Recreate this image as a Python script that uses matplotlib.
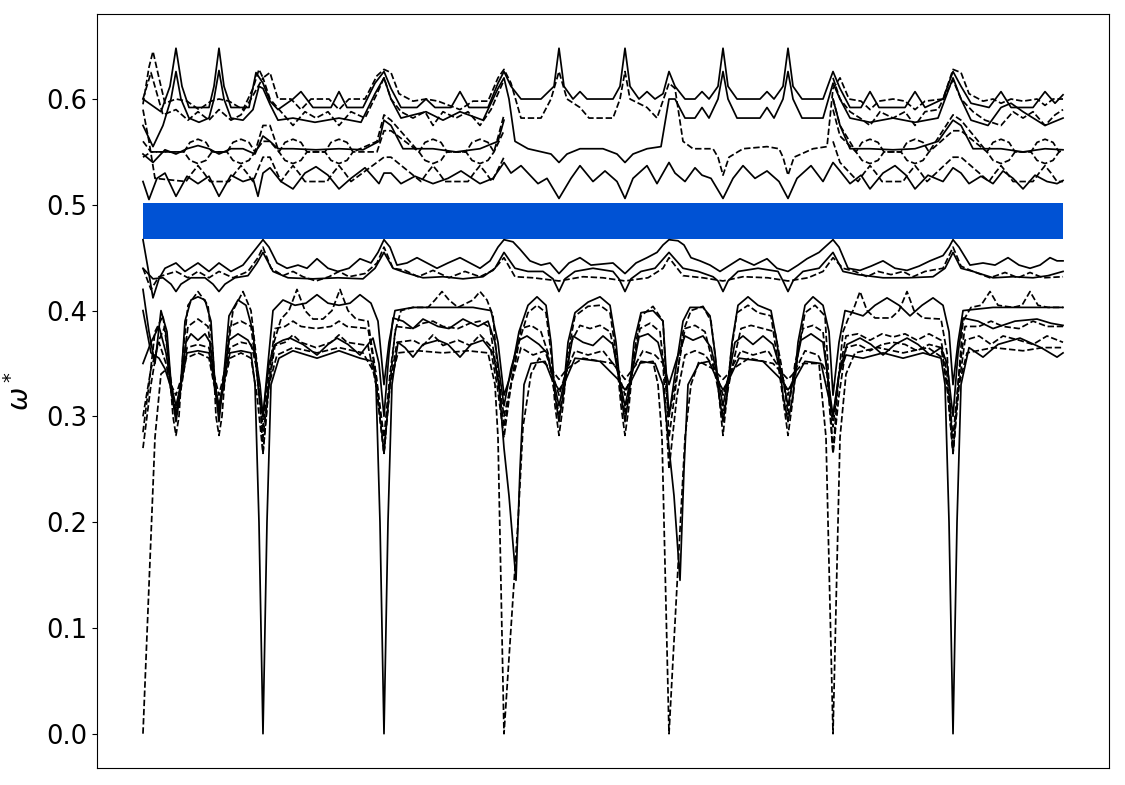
import numpy as np
import matplotlib
matplotlib.use("Agg")
import matplotlib.pyplot as plt

# Band diagram. k = distance along the path (arbitrary units,
# symmetry points at 0, 120, 241, 361, 526, 690, 810, 920), w = normalised frequency.
K_START, K_END = 0, 920
GAP_LOW, GAP_HIGH = 0.4675, 0.5015
NAN = np.nan

# ---- upper group, solid ----
US1 = [(0, 0.600), (18, 0.588), (27, 0.612), (33, 0.648), (39, 0.612), (46, 0.592), (66, 0.592), (71, 0.612),
       (76, 0.648), (81, 0.612), (88, 0.592), (106, 0.592), (113, 0.625), (120, 0.615),
       (127, 0.598), (135, 0.590), (150, 0.600), (158, 0.607), (170, 0.592), (188, 0.592), (196, 0.607),
       (204, 0.592), (220, 0.592), (232, 0.615), (241, 0.626),
       (248, 0.610), (258, 0.592), (274, 0.592), (283, 0.600), (292, 0.592), (308, 0.592), (317, 0.607),
       (326, 0.592), (345, 0.592), (355, 0.615), (361, 0.626),
       (368, 0.612), (378, 0.600), (398, 0.600), (411, 0.612), (416, 0.648), (421, 0.612), (430, 0.600),
       (437, 0.607), (444, 0.600), (470, 0.600), (477, 0.612), (482, 0.648), (487, 0.612), (496, 0.600),
       (504, 0.607), (512, 0.600), (520, 0.605), (526, 0.626),
       (532, 0.612), (542, 0.600), (552, 0.600), (559, 0.607), (566, 0.600), (575, 0.612), (580, 0.648),
       (585, 0.612), (594, 0.600), (617, 0.600), (624, 0.607), (631, 0.600), (640, 0.612), (645, 0.648),
       (650, 0.612), (659, 0.600), (680, 0.600), (690, 0.626),
       (697, 0.610), (707, 0.592), (718, 0.592), (727, 0.607), (736, 0.592), (762, 0.592), (772, 0.607),
       (782, 0.592), (800, 0.600), (810, 0.626),
       (818, 0.612), (828, 0.596), (846, 0.592), (858, 0.607), (868, 0.592), (890, 0.592), (902, 0.607),
       (912, 0.596), (920, 0.604)]

US2 = [(0, 0.575), (10, 0.555), (20, 0.575), (28, 0.600), (33, 0.626), (38, 0.600), (46, 0.582), (56, 0.578),
       (66, 0.582), (71, 0.600), (76, 0.627), (81, 0.600), (88, 0.582), (100, 0.580), (110, 0.590),
       (116, 0.612), (120, 0.610),
       (127, 0.595), (135, 0.580), (150, 0.582), (172, 0.578), (196, 0.582), (218, 0.578), (232, 0.605),
       (241, 0.620),
       (248, 0.600), (258, 0.582), (283, 0.588), (300, 0.580), (317, 0.588), (340, 0.580), (355, 0.610),
       (361, 0.620),
       (366, 0.600), (372, 0.560), (385, 0.553), (408, 0.548), (416, 0.540), (424, 0.548), (437, 0.553),
       (460, 0.553), (474, 0.548), (482, 0.540), (490, 0.548), (504, 0.553), (518, 0.555), (526, 0.600),
       (532, 0.600), (542, 0.582), (552, 0.582), (559, 0.592), (566, 0.582), (575, 0.600), (580, 0.626),
       (585, 0.600), (594, 0.582), (617, 0.582), (624, 0.592), (631, 0.582), (640, 0.600), (645, 0.626),
       (650, 0.600), (659, 0.582), (680, 0.582), (690, 0.615),
       (697, 0.600), (707, 0.582), (727, 0.578), (750, 0.582), (772, 0.578), (795, 0.582), (806, 0.610),
       (810, 0.620),
       (818, 0.600), (828, 0.580), (845, 0.575), (858, 0.592), (868, 0.596), (880, 0.588), (902, 0.575),
       (920, 0.582)]

US3 = [(0, 0.548), (10, 0.540), (22, 0.552), (33, 0.548), (44, 0.553), (55, 0.556), (66, 0.553), (76, 0.548),
       (88, 0.553), (100, 0.553), (112, 0.548), (120, 0.565),
       (127, 0.560), (135, 0.553), (150, 0.553), (173, 0.552), (196, 0.553), (220, 0.552), (236, 0.560),
       (241, 0.580),
       (248, 0.575), (260, 0.553), (290, 0.553), (313, 0.550), (337, 0.553), (355, 0.560), (361, 0.580),
       (600, NAN),
       (690, 0.600), (697, 0.575), (707, 0.553), (727, 0.553), (750, 0.552), (772, 0.553), (795, 0.560),
       (810, 0.580),
       (818, 0.575), (830, 0.553), (858, 0.553), (880, 0.550), (902, 0.553), (920, 0.552)]

US4 = [(0, 0.522), (6, 0.505), (14, 0.525), (22, 0.530), (33, 0.508), (44, 0.527), (55, 0.520), (66, 0.527),
       (76, 0.508), (88, 0.528), (100, 0.522), (110, 0.525), (115, 0.508), (120, 0.530),
       (127, 0.535), (138, 0.522), (150, 0.515), (162, 0.530), (173, 0.536), (185, 0.528), (196, 0.515),
       (208, 0.525), (222, 0.535), (236, 0.520), (241, 0.530),
       (248, 0.530), (258, 0.520), (272, 0.527), (290, 0.520), (305, 0.525), (318, 0.532), (337, 0.520),
       (350, 0.525), (361, 0.540),
       (368, 0.530), (378, 0.537), (395, 0.520), (404, 0.525), (416, 0.506), (428, 0.525), (437, 0.537),
       (450, 0.522), (462, 0.532), (474, 0.522), (482, 0.506), (490, 0.525), (504, 0.537), (514, 0.520),
       (526, 0.540),
       (532, 0.530), (542, 0.522), (552, 0.535), (559, 0.528), (568, 0.525), (580, 0.506), (590, 0.525),
       (600, 0.537), (612, 0.525), (624, 0.532), (636, 0.522), (645, 0.506), (654, 0.525), (668, 0.537),
       (680, 0.522), (690, 0.540),
       (697, 0.532), (707, 0.520), (718, 0.528), (727, 0.515), (740, 0.530), (752, 0.537), (763, 0.528),
       (772, 0.515), (785, 0.528), (800, 0.522), (810, 0.535),
       (818, 0.530), (826, 0.520), (838, 0.527), (850, 0.520), (860, 0.532), (870, 0.525), (880, 0.515),
       (892, 0.528), (904, 0.522), (914, 0.520), (920, 0.523)]

# ---- upper group, dashed ----
UD1 = [(0, 0.595), (6, 0.630), (10, 0.645), (16, 0.620), (22, 0.596), (33, 0.600), (44, 0.598), (56, 0.590),
       (68, 0.598), (76, 0.600), (86, 0.598), (100, 0.590), (110, 0.610), (116, 0.628), (120, 0.620),
       (127, 0.625), (135, 0.600), (148, 0.600), (158, 0.590), (168, 0.600), (186, 0.600), (196, 0.590),
       (206, 0.600), (222, 0.600), (234, 0.622), (241, 0.628),
       (248, 0.625), (256, 0.605), (270, 0.598), (283, 0.600), (295, 0.598), (317, 0.590), (330, 0.598),
       (345, 0.598), (355, 0.620), (361, 0.628),
       (368, 0.615), (378, 0.582), (398, 0.582), (408, 0.600), (416, 0.626), (424, 0.600), (437, 0.592),
       (446, 0.582), (470, 0.582), (477, 0.600), (482, 0.626), (487, 0.600), (504, 0.592), (514, 0.582),
       (526, 0.615),
       (532, 0.610), (540, 0.560), (550, 0.553), (570, 0.553), (575, 0.545), (580, 0.528), (586, 0.545),
       (600, 0.553), (624, 0.555), (636, 0.553), (640, 0.545), (645, 0.528), (651, 0.545), (670, 0.553),
       (684, 0.555), (690, 0.610),
       (697, 0.620), (706, 0.600), (718, 0.598), (727, 0.590), (736, 0.598), (750, 0.600), (762, 0.598),
       (772, 0.590), (782, 0.598), (800, 0.600), (810, 0.628),
       (818, 0.625), (826, 0.605), (840, 0.598), (850, 0.600), (858, 0.596), (868, 0.600), (880, 0.598),
       (894, 0.600), (902, 0.594), (910, 0.600), (920, 0.600)]

UD2 = [(0, 0.600), (8, 0.625), (20, 0.585), (33, 0.590), (45, 0.580), (55, 0.588), (66, 0.580), (76, 0.590),
       (88, 0.580), (98, 0.585), (108, 0.600), (120, 0.620),
       (127, 0.600), (138, 0.588), (150, 0.575), (162, 0.588), (173, 0.582), (185, 0.588), (196, 0.575),
       (208, 0.588), (222, 0.582), (234, 0.605), (241, 0.620),
       (248, 0.600), (258, 0.588), (270, 0.582), (282, 0.588), (290, 0.575), (300, 0.588), (313, 0.582),
       (325, 0.588), (337, 0.575), (348, 0.590), (361, 0.618),
       (600, NAN),
       (690, 0.620), (697, 0.600), (707, 0.588), (717, 0.582), (727, 0.575), (737, 0.588), (750, 0.582),
       (762, 0.588), (772, 0.575), (782, 0.588), (795, 0.590), (810, 0.618),
       (818, 0.600), (830, 0.588), (842, 0.580), (858, 0.575), (870, 0.588), (880, 0.582), (890, 0.588),
       (902, 0.575), (912, 0.585), (920, 0.590)]

UD3_TOP = [(0, 0.560), (8, 0.550), (41, 0.550), (47, 0.559), (55, 0.562), (63, 0.559), (69, 0.550),
           (84, 0.550), (90, 0.559), (98, 0.562), (106, 0.559), (112, 0.550), (120, 0.575),
           (127, 0.575), (136, 0.550), (142, 0.559), (150, 0.562), (158, 0.559), (164, 0.550), (182, 0.550),
           (188, 0.559), (196, 0.562), (204, 0.559), (210, 0.550), (234, 0.560), (241, 0.585),
           (248, 0.580), (276, 0.550), (282, 0.559), (290, 0.562), (298, 0.559), (304, 0.550), (323, 0.550),
           (329, 0.559), (337, 0.562), (345, 0.559), (351, 0.550), (361, 0.585),
           (600, NAN),
           (690, 0.600), (697, 0.575), (713, 0.550), (719, 0.559), (727, 0.562), (735, 0.559), (741, 0.550),
           (758, 0.550), (764, 0.559), (772, 0.562), (780, 0.559), (786, 0.550), (810, 0.585),
           (818, 0.580), (844, 0.550), (850, 0.559), (858, 0.562), (866, 0.559), (872, 0.550), (888, 0.550),
           (894, 0.559), (902, 0.562), (910, 0.559), (916, 0.550), (920, 0.552)]

UD3_BOTTOM = [(0, 0.545), (8, 0.550), (41, 0.550), (47, 0.542), (55, 0.539), (63, 0.542), (69, 0.550),
              (84, 0.550), (90, 0.542), (98, 0.539), (106, 0.542), (112, 0.550), (120, 0.560),
              (127, 0.560), (136, 0.550), (142, 0.542), (150, 0.539), (158, 0.542), (164, 0.550), (182, 0.550),
              (188, 0.542), (196, 0.539), (204, 0.542), (210, 0.550), (234, 0.550), (241, 0.570),
              (248, 0.570), (276, 0.550), (282, 0.542), (290, 0.539), (298, 0.542), (304, 0.550), (323, 0.550),
              (329, 0.542), (337, 0.539), (345, 0.542), (351, 0.550), (361, 0.570),
              (600, NAN),
              (690, 0.590), (697, 0.565), (713, 0.550), (719, 0.542), (727, 0.539), (735, 0.542), (741, 0.550),
              (758, 0.550), (764, 0.542), (772, 0.539), (780, 0.542), (786, 0.550), (810, 0.570),
              (818, 0.570), (844, 0.550), (850, 0.542), (858, 0.539), (866, 0.542), (872, 0.550), (888, 0.550),
              (894, 0.542), (902, 0.539), (910, 0.542), (916, 0.550), (920, 0.552)]

UD4 = [(0, 0.590), (6, 0.560), (12, 0.525), (43, 0.522), (49, 0.530), (55, 0.537), (61, 0.530), (67, 0.522),
       (86, 0.522), (92, 0.530), (98, 0.537), (104, 0.530), (110, 0.522), (120, 0.545),
       (127, 0.545), (138, 0.522), (144, 0.530), (150, 0.537), (156, 0.530), (162, 0.522), (184, 0.522),
       (190, 0.530), (196, 0.537), (202, 0.530), (208, 0.522), (241, 0.545),
       (248, 0.545), (278, 0.522), (284, 0.530), (290, 0.537), (296, 0.530), (302, 0.522), (325, 0.522),
       (331, 0.530), (337, 0.537), (343, 0.530), (349, 0.522), (361, 0.545),
       (600, NAN),
       (690, 0.560), (697, 0.540), (715, 0.522), (721, 0.530), (727, 0.537), (733, 0.530), (739, 0.522),
       (760, 0.522), (766, 0.530), (772, 0.537), (778, 0.530), (784, 0.522), (810, 0.545),
       (818, 0.545), (846, 0.522), (852, 0.530), (858, 0.537), (864, 0.530), (870, 0.522), (890, 0.522),
       (896, 0.530), (902, 0.537), (908, 0.530), (914, 0.522), (920, 0.522)]

# ---- lower group, solid ----
LS1 = [(0, 0.467), (5, 0.440), (10, 0.412), (16, 0.430), (22, 0.440), (33, 0.445), (42, 0.437), (55, 0.445),
       (66, 0.437), (76, 0.445), (88, 0.437), (100, 0.443), (110, 0.455), (120, 0.467),
       (126, 0.460), (134, 0.445), (144, 0.440), (155, 0.443), (164, 0.440), (174, 0.449), (185, 0.440),
       (195, 0.437), (206, 0.440), (217, 0.449), (228, 0.445), (235, 0.455), (241, 0.467),
       (247, 0.460), (254, 0.443), (264, 0.445), (274, 0.450), (284, 0.445), (294, 0.440), (305, 0.445),
       (317, 0.450), (327, 0.445), (337, 0.440), (347, 0.447), (355, 0.460), (361, 0.467),
       (370, 0.465), (377, 0.458), (387, 0.447), (398, 0.443), (407, 0.445), (416, 0.435), (426, 0.445),
       (437, 0.450), (448, 0.443), (470, 0.445), (482, 0.435), (493, 0.445), (504, 0.450), (514, 0.455),
       (520, 0.462), (526, 0.467),
       (535, 0.466), (541, 0.462), (548, 0.450), (557, 0.447), (567, 0.443), (577, 0.437), (587, 0.443),
       (597, 0.449), (611, 0.443), (624, 0.449), (634, 0.440), (645, 0.437), (655, 0.443), (664, 0.449),
       (676, 0.455), (690, 0.467),
       (696, 0.460), (705, 0.440), (717, 0.438), (728, 0.442), (740, 0.447), (752, 0.440), (764, 0.438),
       (776, 0.442), (787, 0.447), (800, 0.452), (806, 0.460), (810, 0.467),
       (816, 0.460), (827, 0.443), (840, 0.445), (852, 0.443), (865, 0.450), (876, 0.443), (887, 0.440),
       (897, 0.443), (907, 0.450), (914, 0.447), (920, 0.447)]

LS2 = [(0, 0.440), (10, 0.430), (20, 0.431), (28, 0.425), (33, 0.418), (38, 0.425), (48, 0.431), (62, 0.431),
       (70, 0.425), (76, 0.418), (82, 0.425), (92, 0.431), (105, 0.433), (114, 0.445), (120, 0.455),
       (130, 0.437), (145, 0.431), (170, 0.430), (195, 0.431), (220, 0.430), (232, 0.440), (241, 0.455),
       (250, 0.440), (262, 0.436), (280, 0.431), (300, 0.432), (320, 0.430), (340, 0.432), (352, 0.440),
       (361, 0.455),
       (372, 0.440), (385, 0.437), (400, 0.437), (410, 0.430), (416, 0.418), (422, 0.430), (432, 0.437),
       (450, 0.440), (470, 0.437), (476, 0.430), (482, 0.418), (488, 0.430), (498, 0.437), (512, 0.440),
       (526, 0.455),
       (540, 0.440), (555, 0.437), (570, 0.432), (575, 0.428), (580, 0.418), (585, 0.428), (595, 0.437),
       (615, 0.440), (635, 0.437), (640, 0.428), (645, 0.418), (650, 0.428), (660, 0.437), (676, 0.440),
       (690, 0.455),
       (700, 0.437), (715, 0.434), (740, 0.431), (765, 0.431), (790, 0.432), (802, 0.440), (810, 0.455),
       (818, 0.440), (830, 0.437), (850, 0.431), (870, 0.432), (890, 0.431), (905, 0.433), (920, 0.437)]

LS3 = [(0, 0.420), (6, 0.380), (12, 0.350), (18, 0.400), (24, 0.380), (29, 0.320), (33, 0.295), (37, 0.320),
       (42, 0.390), (48, 0.410), (55, 0.413), (62, 0.410), (68, 0.390), (72, 0.330), (76, 0.295), (80, 0.330),
       (86, 0.395), (95, 0.410), (103, 0.405), (110, 0.380), (116, 0.320), (120, 0.300),
       (125, 0.350), (130, 0.400), (140, 0.410), (152, 0.405), (163, 0.407), (174, 0.415), (185, 0.407),
       (196, 0.405), (207, 0.407), (217, 0.415), (228, 0.407), (235, 0.390), (241, 0.330),
       (246, 0.370), (252, 0.400), (270, 0.403), (300, 0.403), (330, 0.403), (348, 0.400), (355, 0.370),
       (361, 0.320),
       (368, 0.340), (376, 0.380), (385, 0.405), (394, 0.413), (403, 0.405), (408, 0.370), (412, 0.320),
       (416, 0.295), (420, 0.320), (425, 0.370), (432, 0.398), (445, 0.408), (457, 0.413), (467, 0.405),
       (473, 0.370), (478, 0.320), (482, 0.295), (486, 0.320), (491, 0.370), (498, 0.398), (510, 0.400),
       (520, 0.390), (526, 0.300),
       (532, 0.340), (540, 0.390), (547, 0.403), (560, 0.403), (567, 0.395), (572, 0.360), (576, 0.320),
       (580, 0.295), (584, 0.320), (589, 0.370), (595, 0.405), (605, 0.413), (615, 0.405), (628, 0.400),
       (634, 0.370), (640, 0.320), (645, 0.295), (650, 0.320), (655, 0.370), (662, 0.405), (670, 0.413),
       (680, 0.405), (686, 0.380), (690, 0.320),
       (696, 0.370), (702, 0.400), (710, 0.398), (720, 0.395), (732, 0.405), (744, 0.412), (756, 0.405),
       (767, 0.395), (779, 0.405), (790, 0.412), (800, 0.405), (806, 0.380), (810, 0.330),
       (815, 0.370), (820, 0.400), (850, 0.403), (880, 0.403), (920, 0.403)]

LS4 = [(0, 0.350), (8, 0.370), (16, 0.385), (23, 0.360), (28, 0.330), (33, 0.310), (38, 0.330), (43, 0.370),
       (48, 0.378), (55, 0.372), (62, 0.378), (67, 0.370), (71, 0.335), (76, 0.310), (81, 0.335), (86, 0.372),
       (95, 0.378), (105, 0.372), (112, 0.360), (117, 0.330), (120, 0.300),
       (126, 0.350), (132, 0.368), (140, 0.372), (147, 0.374), (160, 0.368), (174, 0.358), (185, 0.368),
       (194, 0.374), (205, 0.368), (217, 0.358), (225, 0.368), (230, 0.374), (236, 0.350), (241, 0.300),
       (246, 0.360), (250, 0.393), (260, 0.390), (270, 0.383), (280, 0.392), (295, 0.385), (306, 0.383),
       (320, 0.392), (335, 0.385), (345, 0.390), (352, 0.370), (361, 0.310),
       (368, 0.345), (376, 0.372), (384, 0.376), (396, 0.368), (404, 0.360), (409, 0.340), (416, 0.310),
       (423, 0.340), (430, 0.376), (440, 0.370), (450, 0.367), (460, 0.376), (470, 0.368), (475, 0.340),
       (482, 0.310), (489, 0.340), (496, 0.375), (505, 0.378), (515, 0.370), (526, 0.330),
       (534, 0.355), (542, 0.376), (550, 0.372), (560, 0.376), (568, 0.365), (574, 0.340), (580, 0.310),
       (586, 0.340), (592, 0.370), (600, 0.376), (610, 0.368), (620, 0.376), (630, 0.368), (639, 0.340),
       (645, 0.310), (651, 0.340), (658, 0.372), (668, 0.378), (680, 0.370), (690, 0.300),
       (696, 0.340), (704, 0.368), (717, 0.374), (728, 0.368), (740, 0.358), (752, 0.368), (764, 0.374),
       (775, 0.368), (787, 0.358), (798, 0.365), (804, 0.350), (810, 0.300),
       (815, 0.360), (820, 0.393), (835, 0.390), (850, 0.383), (872, 0.390), (894, 0.392), (908, 0.388),
       (920, 0.386)]

LS5 = [(0, 0.400), (8, 0.360), (16, 0.355), (22, 0.345), (27, 0.330), (33, 0.300), (38, 0.330), (44, 0.360),
       (55, 0.362), (66, 0.360), (71, 0.335), (76, 0.305), (81, 0.335), (87, 0.360), (98, 0.362), (108, 0.360),
       (112, 0.330), (116, 0.200), (120, 0.000),
       (124, 0.200), (128, 0.330), (136, 0.355), (150, 0.362), (174, 0.355), (196, 0.362), (217, 0.355),
       (230, 0.352), (233, 0.330), (237, 0.200), (241, 0.000),
       (245, 0.200), (249, 0.330), (255, 0.370), (262, 0.365), (270, 0.356), (280, 0.368), (295, 0.372),
       (305, 0.368), (317, 0.356), (328, 0.368), (340, 0.372), (350, 0.360), (356, 0.330), (361, 0.270),
       (366, 0.225), (373, 0.145), (377, 0.250), (381, 0.330), (388, 0.350), (402, 0.352), (409, 0.335),
       (416, 0.325), (423, 0.335), (432, 0.355), (457, 0.352), (475, 0.335), (482, 0.325), (489, 0.335),
       (498, 0.352), (512, 0.350), (520, 0.330), (526, 0.270),
       (531, 0.225), (537, 0.145), (541, 0.250), (545, 0.330), (556, 0.350), (566, 0.352), (574, 0.335),
       (580, 0.325), (586, 0.335), (596, 0.355), (620, 0.352), (638, 0.335), (645, 0.325), (652, 0.335),
       (662, 0.352), (678, 0.350), (690, 0.300),
       (696, 0.340), (703, 0.358), (720, 0.355), (740, 0.360), (760, 0.355), (780, 0.360), (798, 0.355),
       (802, 0.330), (806, 0.200), (810, 0.000),
       (814, 0.200), (818, 0.330), (826, 0.365), (840, 0.356), (855, 0.368), (877, 0.374), (898, 0.365),
       (914, 0.356), (920, 0.360)]

# ---- lower group, dashed ----
LD1 = [(0, 0.440), (8, 0.420), (16, 0.432), (33, 0.437), (45, 0.431), (55, 0.437), (66, 0.431), (76, 0.437),
       (90, 0.431), (105, 0.437), (115, 0.450), (120, 0.460),
       (128, 0.440), (140, 0.433), (150, 0.437), (160, 0.432), (173, 0.428), (186, 0.432), (196, 0.437),
       (206, 0.432), (222, 0.435), (234, 0.445), (241, 0.460),
       (250, 0.440), (262, 0.438), (275, 0.432), (290, 0.438), (306, 0.431), (322, 0.437), (337, 0.432),
       (350, 0.438), (361, 0.450),
       (372, 0.432), (390, 0.431), (416, 0.428), (440, 0.432), (460, 0.431), (482, 0.428), (505, 0.431),
       (520, 0.440), (526, 0.450),
       (540, 0.433), (560, 0.431), (580, 0.428), (600, 0.432), (625, 0.431), (645, 0.428), (665, 0.431),
       (680, 0.437), (690, 0.450),
       (700, 0.440), (712, 0.437), (724, 0.432), (735, 0.437), (748, 0.434), (760, 0.437), (770, 0.432),
       (782, 0.437), (800, 0.440), (810, 0.460),
       (818, 0.442), (830, 0.437), (847, 0.431), (862, 0.436), (875, 0.431), (887, 0.436), (900, 0.431),
       (920, 0.432)]

LD2 = [(0, 0.285), (6, 0.330), (12, 0.380), (20, 0.395), (26, 0.350), (30, 0.300), (33, 0.282), (36, 0.300),
       (40, 0.360), (45, 0.405), (55, 0.418), (65, 0.405), (70, 0.360), (73, 0.300), (76, 0.282), (79, 0.300),
       (83, 0.350), (90, 0.400), (100, 0.418), (108, 0.400), (114, 0.350), (118, 0.300), (120, 0.265),
       (125, 0.320), (131, 0.370), (138, 0.392), (146, 0.400), (154, 0.420), (162, 0.400), (170, 0.392),
       (180, 0.392), (189, 0.400), (197, 0.420), (205, 0.400), (213, 0.392), (225, 0.390), (233, 0.340),
       (241, 0.265),
       (246, 0.320), (252, 0.380), (258, 0.400), (270, 0.403), (285, 0.403), (292, 0.410), (299, 0.418),
       (306, 0.410), (315, 0.403), (330, 0.410), (337, 0.418), (344, 0.410), (350, 0.395), (355, 0.340),
       (361, 0.300),
       (368, 0.330), (376, 0.370), (385, 0.398), (394, 0.405), (403, 0.398), (408, 0.360), (412, 0.310),
       (416, 0.282), (420, 0.310), (425, 0.360), (432, 0.395), (445, 0.404), (457, 0.405), (467, 0.398),
       (473, 0.360), (478, 0.310), (482, 0.282), (486, 0.310), (491, 0.360), (498, 0.395), (510, 0.404),
       (520, 0.390), (526, 0.280),
       (533, 0.330), (540, 0.380), (548, 0.400), (560, 0.404), (568, 0.390), (573, 0.350), (577, 0.310),
       (580, 0.282), (583, 0.310), (588, 0.360), (594, 0.398), (605, 0.405), (615, 0.398), (628, 0.395),
       (635, 0.350), (641, 0.310), (645, 0.282), (649, 0.310), (655, 0.360), (662, 0.398), (672, 0.405),
       (682, 0.395), (690, 0.265),
       (695, 0.330), (700, 0.380), (705, 0.392), (710, 0.400), (717, 0.418), (724, 0.400), (732, 0.393),
       (748, 0.393), (756, 0.400), (764, 0.418), (771, 0.400), (780, 0.393), (798, 0.392), (804, 0.360),
       (810, 0.265),
       (815, 0.330), (820, 0.390), (828, 0.403), (838, 0.405), (847, 0.418), (855, 0.405), (870, 0.403),
       (879, 0.405), (887, 0.418), (895, 0.405), (905, 0.403), (920, 0.403)]

LD3 = [(0, 0.270), (8, 0.330), (15, 0.370), (22, 0.385), (27, 0.340), (33, 0.302), (39, 0.340), (45, 0.385),
       (55, 0.392), (65, 0.385), (71, 0.340), (76, 0.302), (81, 0.340), (87, 0.385), (98, 0.390), (108, 0.385),
       (114, 0.340), (120, 0.290),
       (126, 0.340), (132, 0.383), (142, 0.385), (150, 0.390), (158, 0.385), (173, 0.383), (188, 0.385),
       (196, 0.390), (204, 0.385), (225, 0.383), (233, 0.340), (241, 0.280),
       (247, 0.340), (253, 0.385), (270, 0.383), (280, 0.388), (290, 0.390), (300, 0.385), (315, 0.383),
       (327, 0.388), (337, 0.390), (347, 0.384), (354, 0.340), (361, 0.290),
       (368, 0.330), (378, 0.383), (388, 0.386), (398, 0.380), (405, 0.360), (410, 0.330), (416, 0.302),
       (422, 0.330), (428, 0.370), (437, 0.386), (447, 0.383), (457, 0.386), (467, 0.380), (474, 0.350),
       (482, 0.302), (490, 0.350), (497, 0.383), (507, 0.388), (517, 0.380), (526, 0.300),
       (534, 0.340), (542, 0.383), (552, 0.386), (562, 0.380), (570, 0.350), (580, 0.302), (590, 0.350),
       (598, 0.383), (608, 0.386), (620, 0.383), (632, 0.380), (638, 0.350), (645, 0.302), (652, 0.350),
       (660, 0.383), (670, 0.386), (680, 0.380), (690, 0.290),
       (696, 0.340), (703, 0.376), (715, 0.378), (727, 0.372), (739, 0.378), (750, 0.375), (762, 0.378),
       (774, 0.372), (786, 0.378), (798, 0.372), (804, 0.340), (810, 0.280),
       (816, 0.340), (822, 0.385), (836, 0.385), (848, 0.390), (860, 0.385), (876, 0.383), (890, 0.390),
       (904, 0.385), (920, 0.385)]

LD4 = [(0, 0.300), (8, 0.345), (16, 0.370), (23, 0.350), (28, 0.330), (33, 0.320), (38, 0.335), (44, 0.365),
       (55, 0.368), (66, 0.365), (71, 0.340), (76, 0.320), (81, 0.340), (87, 0.365), (98, 0.370), (108, 0.368),
       (114, 0.345), (120, 0.280),
       (126, 0.330), (132, 0.367), (142, 0.370), (150, 0.377), (158, 0.370), (173, 0.365), (188, 0.370),
       (196, 0.377), (204, 0.370), (225, 0.367), (233, 0.330), (241, 0.265),
       (247, 0.330), (254, 0.370), (270, 0.372), (280, 0.367), (290, 0.377), (300, 0.367), (315, 0.372),
       (327, 0.367), (337, 0.377), (347, 0.367), (354, 0.330), (361, 0.280),
       (368, 0.330), (378, 0.365), (390, 0.358), (402, 0.362), (408, 0.345), (416, 0.320), (424, 0.345),
       (432, 0.362), (445, 0.358), (460, 0.362), (474, 0.345), (482, 0.320), (490, 0.345), (500, 0.362),
       (512, 0.358), (520, 0.350), (526, 0.250),
       (534, 0.320), (542, 0.358), (552, 0.362), (562, 0.358), (572, 0.345), (580, 0.320), (588, 0.345),
       (598, 0.362), (610, 0.358), (625, 0.362), (637, 0.345), (645, 0.320), (653, 0.345), (662, 0.362),
       (675, 0.358), (684, 0.340), (690, 0.265),
       (696, 0.320), (703, 0.365), (715, 0.368), (727, 0.362), (739, 0.368), (750, 0.370), (762, 0.368),
       (774, 0.362), (786, 0.368), (798, 0.365), (804, 0.330), (810, 0.265),
       (816, 0.330), (822, 0.372), (836, 0.376), (848, 0.368), (860, 0.376), (876, 0.372), (890, 0.368),
       (904, 0.376), (920, 0.370)]

LD5 = [(0, 0.000), (6, 0.140), (12, 0.280), (18, 0.340), (24, 0.345), (29, 0.320), (33, 0.305), (37, 0.320),
       (43, 0.355), (55, 0.360), (66, 0.355), (71, 0.330), (76, 0.305), (81, 0.330), (87, 0.355), (98, 0.360),
       (108, 0.355), (114, 0.320), (120, 0.265),
       (126, 0.330), (134, 0.358), (150, 0.365), (174, 0.360), (196, 0.365), (220, 0.360), (232, 0.340),
       (241, 0.265),
       (247, 0.330), (255, 0.360), (275, 0.362), (300, 0.360), (325, 0.362), (345, 0.360), (352, 0.330),
       (355, 0.280), (361, 0.000),
       (368, 0.100), (375, 0.200), (380, 0.290), (388, 0.340), (396, 0.355), (408, 0.345), (416, 0.335),
       (424, 0.345), (440, 0.355), (470, 0.350), (482, 0.335), (494, 0.350), (510, 0.352), (515, 0.330),
       (519, 0.280), (526, 0.000),
       (534, 0.140), (542, 0.280), (548, 0.330), (556, 0.352), (570, 0.345), (580, 0.335), (590, 0.345),
       (606, 0.355), (630, 0.350), (645, 0.335), (660, 0.350), (676, 0.350), (683, 0.280), (690, 0.000),
       (697, 0.280), (703, 0.340), (712, 0.360), (735, 0.365), (760, 0.360), (785, 0.365), (800, 0.355),
       (805, 0.320), (810, 0.265),
       (816, 0.330), (824, 0.360), (850, 0.365), (880, 0.362), (900, 0.365), (920, 0.365)]

SOLID_BANDS = [US1, US2, US3, US4, LS1, LS2, LS3, LS4, LS5]
DASHED_BANDS = [UD1, UD2, UD3_TOP, UD3_BOTTOM, UD4, LD1, LD2, LD3, LD4, LD5]

fig = plt.figure(figsize=(11.25, 7.85), dpi=100)
ax = fig.add_axes([0.0862, 0.0217, 0.8996, 0.9605])

# band gap
ax.fill_between([K_START, K_END], GAP_LOW, GAP_HIGH, color='#0052d4', linewidth=0)

for band in SOLID_BANDS:
    k, w = np.array(band, dtype=float).T
    ax.plot(k, w, color='black', linewidth=1.25, linestyle='-')

for band in DASHED_BANDS:
    k, w = np.array(band, dtype=float).T
    ax.plot(k, w, color='black', linewidth=1.25, linestyle='--')

ax.set_xticks([])
ax.tick_params(axis='y', labelsize=18.5)
ax.set_ylabel(r'$\omega^*$', fontsize=20, labelpad=8)

fig.savefig('out.png', dpi=100)
